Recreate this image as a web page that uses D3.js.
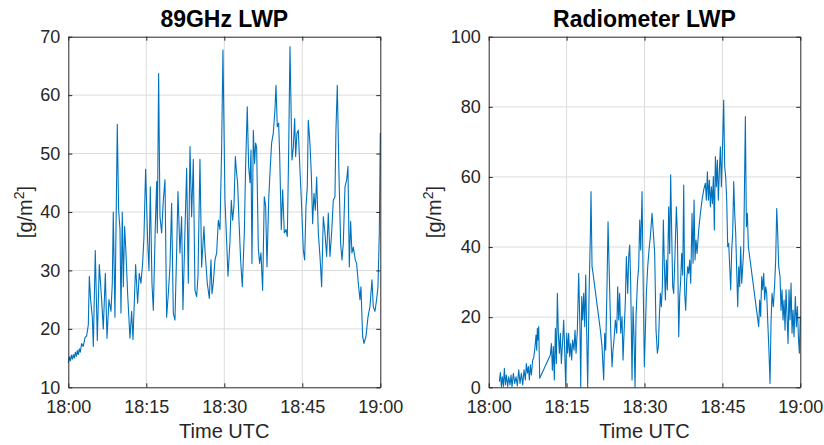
<!DOCTYPE html>
<html>
  <head>
    <meta charset="UTF-8">
    <title>LWP comparison</title>
    <script src="https://d3js.org/d3.v7.min.js"></script>
    <style>
      body { margin: 0; background: #fff; }
      svg { font-family: "Liberation Sans", Arial, sans-serif; }
      .grid line { stroke: #dcdcdc; stroke-width: 1; }
      .ax path, .ax line { stroke: #262626; stroke-width: 1; }
      .ax text { fill: #262626; font-size: 18px; }
      .title { font-size: 23px; font-weight: bold; fill: #000; }
      .label { font-size: 20px; fill: #262626; }
      .series { fill: none; stroke: #0072bd; stroke-width: 1.1; stroke-linejoin: round; }
    </style>
  </head>
  <body>
    <div id="chart"></div>
    <script>
      // time is minutes after 18:00 UTC
      const timeTicks = [0, 15, 30, 45, 60];
      const timeLabels = ["18:00", "18:15", "18:30", "18:45", "19:00"];
      const ticks89 = [10, 20, 30, 40, 50, 60, 70];
      const ticksRad = [0, 20, 40, 60, 80, 100];

      // 89GHz LWP, g/m2
      const t89 = [0, 0.19, 0.38, 0.58, 0.77, 0.96, 1.15, 1.35, 1.54, 1.73, 1.92, 2.12, 2.31, 2.56, 2.88,
        3.21, 3.53, 3.85, 4.04, 4.29, 4.62, 4.81, 5.19, 5.58, 5.96, 6.41, 6.73, 7.12, 7.44, 7.82,
        8.21, 8.46, 8.65, 8.97, 9.42, 9.68, 9.94, 10.13, 10.38, 10.58, 10.83, 11.09, 11.41, 11.86, 12.18,
        12.44, 12.95, 13.33, 13.65, 13.97, 14.29, 14.55, 14.87, 15.26, 15.51, 15.77, 16.09, 16.35, 16.73, 16.99,
        17.12, 17.37, 17.63, 17.95, 18.27, 18.59, 18.91, 19.23, 19.55, 19.87, 20.19, 20.51, 20.83, 21.09, 21.47,
        21.79, 22.05, 22.44, 22.76, 23.08, 23.4, 23.72, 24.04, 24.36, 24.68, 24.94, 25.32, 25.64, 26.09, 26.28,
        26.73, 27.12, 27.44, 27.63, 27.88, 28.21, 28.53, 28.85, 29.17, 29.49, 29.74, 30.13, 30.45, 30.71, 31.09,
        31.35, 31.6, 31.86, 32.12, 32.37, 32.56, 32.82, 33.14, 33.46, 33.85, 34.1, 34.42, 34.68, 34.94, 35.13,
        35.32, 35.58, 35.83, 36.03, 36.22, 36.54, 36.79, 37.05, 37.37, 37.69, 37.95, 38.21, 38.53, 38.78, 39.1,
        39.42, 39.74, 39.94, 40.19, 40.45, 40.64, 40.96, 41.22, 41.54, 41.86, 42.12, 42.37, 42.63, 43.01, 43.27,
        43.53, 43.72, 43.97, 44.23, 44.55, 44.87, 45.19, 45.45, 45.71, 45.96, 46.15, 46.47, 46.73, 46.99, 47.24,
        47.5, 47.76, 48.08, 48.4, 48.72, 49.04, 49.36, 49.68, 50, 50.32, 50.64, 50.96, 51.28, 51.47, 51.73,
        52.05, 52.37, 52.63, 52.88, 53.21, 53.53, 53.78, 54.04, 54.29, 54.55, 54.81, 55.19, 55.45, 55.77, 56.09,
        56.28, 56.6, 56.86, 57.24, 57.63, 58.01, 58.4, 58.65, 58.97, 59.29, 59.55, 59.81, 60];
      const lwp89 = [14.2, 15.2, 14.5, 15.5, 14.8, 15.6, 15.0, 16.0, 15.3, 16.3, 15.6, 16.6, 16.0, 17.5, 17.0,
        18.5, 18.8, 20.7, 29, 25, 22, 17, 33.4, 18, 31, 25, 20, 29.5, 18.4, 25,
        23, 27.8, 40, 22, 55, 40.3, 37, 22.7, 40, 27.2, 37.5, 33, 26, 18.4, 23,
        18.2, 31, 24.4, 29.5, 27.8, 31.2, 35.7, 47.3, 35, 30, 44.3, 27.8, 23.2, 37.5, 45.2,
        36.4, 63.7, 39.2, 36.4, 42, 45.5, 22, 26, 30.7, 41.5, 22.7, 21.5, 33, 43.5, 33,
        39.2, 23.3, 37, 47.5, 27.8, 51.2, 39.2, 49, 26.6, 25.5, 29, 49, 30.6, 37.5, 33.5,
        27.8, 25.2, 31.8, 26, 27.8, 31.8, 33, 38.6, 37, 51, 67.7, 42, 35, 29, 35,
        42, 38.6, 41, 49.5, 46.6, 45, 38.6, 31.8, 27.2, 36.4, 47.8, 58, 47.8, 45, 50.6,
        31.2, 54, 48.3, 51.8, 51, 33.8, 31.2, 33, 26.6, 42.6, 41, 30.6, 42, 46.6, 51.8,
        53.5, 57.5, 61.7, 54.6, 55.2, 50, 37, 43.8, 36.4, 37, 35.8, 50, 68.3, 48.9, 51,
        56, 49.5, 53.5, 54, 47.2, 41, 33.5, 31.8, 41, 44.3, 55.7, 51.8, 46.6, 38, 43.2,
        40.3, 46, 36.4, 32.4, 27.2, 39.2, 36.4, 32.4, 39.8, 32.4, 36.4, 42, 42.6, 54, 61.7,
        46.6, 34.6, 31.8, 34.6, 44.3, 45.5, 47.8, 30.6, 38.4, 33, 34, 31.8, 31.2, 27.8, 25,
        27.2, 18.7, 17.5, 18.7, 22, 23.8, 28.4, 23.8, 23, 25, 27.2, 36.4, 53.5];

      // Radiometer LWP, g/m2
      const tRad = [2.05, 2.25, 2.44, 2.63, 2.82, 3.02, 3.21, 3.4, 3.66, 3.85, 4.11, 4.3, 4.49, 4.75, 5.01,
        5.26, 5.52, 5.78, 6.03, 6.29, 6.55, 6.8, 7.06, 7.25, 7.45, 7.64, 7.83, 8.02, 8.22, 8.47,
        8.66, 8.92, 9.11, 9.24, 9.37, 9.5, 9.63, 9.82, 11.87, 12.07, 12.26, 12.45, 12.64, 12.84, 13.03,
        13.22, 13.41, 13.61, 13.8, 13.99, 14.25, 14.44, 14.63, 14.83, 15.02, 15.21, 15.4, 15.6, 15.79, 15.98,
        16.17, 16.43, 16.62, 16.82, 17.07, 17.33, 17.59, 17.72, 17.91, 18.1, 18.29, 18.49, 18.68, 18.87, 19.06,
        19.32, 19.58, 19.7, 19.9, 20.09, 21.5, 21.82, 22.14, 22.34, 22.53, 22.79, 22.98, 23.23, 23.49, 23.75,
        23.94, 24.13, 24.39, 24.65, 24.84, 25.03, 25.22, 25.42, 25.67, 25.87, 26.06, 26.32, 26.51, 26.77, 26.96,
        27.15, 27.34, 27.6, 27.79, 27.98, 28.18, 28.37, 28.63, 28.88, 29.08, 29.27, 29.53, 29.72, 29.97, 30.17,
        30.36, 30.62, 30.87, 31.13, 31.45, 31.71, 31.96, 32.22, 32.48, 32.67, 32.86, 33.06, 33.25, 33.44, 33.63,
        33.83, 34.02, 34.21, 34.4, 34.66, 34.85, 35.04, 35.24, 35.43, 35.62, 35.88, 36.14, 36.33, 36.59, 36.78,
        36.97, 37.16, 37.36, 37.55, 37.74, 37.93, 38.13, 38.32, 38.51, 38.7, 38.9, 39.15, 39.35, 39.54, 39.73,
        39.92, 40.12, 40.44, 40.76, 41.08, 41.4, 41.72, 41.91, 42.11, 42.3, 42.49, 42.68, 42.88, 43.07, 43.26,
        43.45, 43.65, 43.84, 44.03, 44.22, 44.42, 44.61, 44.8, 45.06, 45.25, 45.44, 45.63, 45.83, 46.02, 46.21,
        46.41, 46.6, 46.79, 46.98, 47.18, 47.37, 47.56, 47.75, 47.95, 48.14, 48.33, 48.52, 48.72, 48.91, 49.1,
        49.42, 49.62, 49.81, 50, 51.99, 52.18, 52.37, 52.57, 52.76, 52.95, 53.14, 53.34, 53.53, 53.72, 53.98,
        54.17, 54.36, 54.56, 54.81, 55.07, 55.26, 55.46, 55.65, 55.84, 56.1, 56.29, 56.48, 56.68, 56.87, 57.06,
        57.25, 57.45, 57.64, 57.83, 58.02, 58.22, 58.41, 58.6, 58.79, 59.05, 59.24, 59.44, 59.63, 59.82, 60];
      const lwpRad = [1.6, 4.2, 0.2, 3, 0.2, 5.4, 0.7, 3.5, 0.2, 3, 0.7, 3.5, 0.2, 4, 1.1,
        3, 0.4, 5, 1.1, 4, 0.7, 5, 2.1, 6.8, 4, 5.9, 2.1, 6.4, 3.5, 7.8,
        8.3, 11.6, 14.9, 10.6, 16.8, 13.5, 17.3, 2.6, 9.2, 12.5, 4.9, 11.6, 2.1, 16.8, 6.8,
        26.8, 15.4, 9.7, 15.4, 6.8, 13.5, 19.2, 10.6, 0, 15.4, 9.7, 15.4, 8.7, 12.5, 7.8,
        13.5, 10.6, 16.3, 9.7, 16.3, 32.5, 15.4, 0, 25.9, 19.2, 26.8, 17.3, 32, 15.4, 0,
        25.9, 43.9, 55.8, 34.4, 32.5, 16.3, 11.6, 2.1, 15.4, 10.6, 29.7, 47.2, 31.6, 16.3, 5.9,
        10.6, 13.5, 19.2, 15.4, 28.7, 19.2, 26.8, 15.4, 20.2, 7.8, 15.4, 24.9, 37.3, 26.8, 37.3,
        40.6, 29.7, 2.1, 23, 14.4, 0, 20.2, 29.7, 34.4, 47.7, 39.2, 55.8, 32.5, 5.9, 16.3,
        26.8, 34.4, 39.2, 43, 49.6, 43.9, 38.2, 16.3, 9.7, 11.6, 20.2, 26.8, 23, 28.7, 47.7,
        34.4, 24.9, 36.3, 27.8, 51.5, 38.2, 60.6, 43.9, 28.7, 26.8, 38.2, 51.5, 43.9, 14.4, 25.9,
        30.6, 38.2, 32, 57.7, 26.8, 22, 30.6, 34.4, 32.5, 36.3, 29.7, 49.6, 35.4, 53.4, 36.3,
        42, 38.2, 44.9, 49.6, 53.4, 56.3, 58.2, 53.4, 61.5, 53.4, 59.1, 51.5, 57.2, 52.4, 60.1,
        44.9, 65.8, 57.2, 64.8, 53.4, 62, 68.6, 57.2, 70.5, 81.9, 62.9, 60.1, 53.4, 40.1, 41.1,
        34.4, 27.8, 39.2, 43.9, 58.7, 49.6, 43.9, 33.5, 23, 34.4, 28.7, 40.1, 29.7, 34.4, 39.2,
        77.2, 45.8, 49.6, 40.1, 17.3, 24.9, 20.2, 31.6, 27.8, 32.5, 24.9, 28.7, 26.8, 19.2, 9.7,
        1.1, 18.3, 26.8, 23, 29.7, 36.3, 51, 43.9, 34.4, 31.6, 22, 27.8, 19.2, 24.9, 16.3,
        27.8, 20.2, 12.5, 27.8, 19.2, 29.7, 15.4, 22, 14.4, 25.9, 17.3, 23, 14.4, 9.7, 20.2];

      const width = 824;
      const height = 445;

      const svg = d3.select("#chart")
        .append("svg")
        .attr("width", width)
        .attr("height", height);

      function drawPanel(opts) {
        const top = 36.7, bottom = 387.3;
        const x = d3.scaleLinear().domain([0, 60]).range([opts.left, opts.right]);
        const y = d3.scaleLinear().domain(opts.yDomain).range([bottom, top]);
        const g = svg.append("g");

        // grid
        const grid = g.append("g").attr("class", "grid");
        grid.selectAll(".gx")
          .data(timeTicks.slice(1, -1))
          .enter()
          .append("line")
          .attr("x1", d => x(d)).attr("x2", d => x(d))
          .attr("y1", top).attr("y2", bottom);
        grid.selectAll(".gy")
          .data(opts.yTicks.slice(1, -1))
          .enter()
          .append("line")
          .attr("x1", opts.left).attr("x2", opts.right)
          .attr("y1", d => y(d)).attr("y2", d => y(d));

        // series
        const line = d3.line()
          .x((d, i) => x(opts.t[i]))
          .y(d => y(d));
        g.append("path")
          .datum(opts.v)
          .attr("class", "series")
          .attr("d", line);

        // axes, ticks pointing inward
        const fmt = (d, i) => timeLabels[i];
        g.append("g").attr("class", "ax")
          .attr("transform", `translate(0,${bottom})`)
          .call(d3.axisBottom(x).tickValues(timeTicks).tickFormat(fmt).tickSize(-4).tickSizeOuter(0).tickPadding(13));
        g.append("g").attr("class", "ax")
          .attr("transform", `translate(0,${top})`)
          .call(d3.axisTop(x).tickValues(timeTicks).tickFormat("").tickSize(-4).tickSizeOuter(0));
        g.append("g").attr("class", "ax")
          .attr("transform", `translate(${opts.left},0)`)
          .call(d3.axisLeft(y).tickValues(opts.yTicks).tickSize(-4).tickSizeOuter(0).tickPadding(8));
        g.append("g").attr("class", "ax")
          .attr("transform", `translate(${opts.right},0)`)
          .call(d3.axisRight(y).tickValues(opts.yTicks).tickFormat("").tickSize(-4).tickSizeOuter(0));

        const cx = (opts.left + opts.right) / 2;
        g.append("text")
          .attr("class", "title")
          .attr("x", cx)
          .attr("y", 27)
          .attr("text-anchor", "middle")
          .text(opts.title);

        g.append("text")
          .attr("class", "label")
          .attr("x", cx)
          .attr("y", 438)
          .attr("text-anchor", "middle")
          .text("Time UTC");

        const yl = g.append("text")
          .attr("class", "label")
          .attr("text-anchor", "middle")
          .attr("transform", `translate(${opts.ylabelX},${(top + bottom) / 2}) rotate(-90)`);
        yl.append("tspan").text("[g/m");
        yl.append("tspan").attr("dy", -8).attr("font-size", 14).text("2");
        yl.append("tspan").attr("dy", 8).text("]");
      }

      drawPanel({
        left: 68.3, right: 380.3, yDomain: [10, 70], yTicks: ticks89,
        t: t89, v: lwp89, title: "89GHz LWP", ylabelX: 32
      });
      drawPanel({
        left: 488.7, right: 800.3, yDomain: [0, 100], yTicks: ticksRad,
        t: tRad, v: lwpRad, title: "Radiometer LWP", ylabelX: 441
      });
    </script>
  </body>
</html>
